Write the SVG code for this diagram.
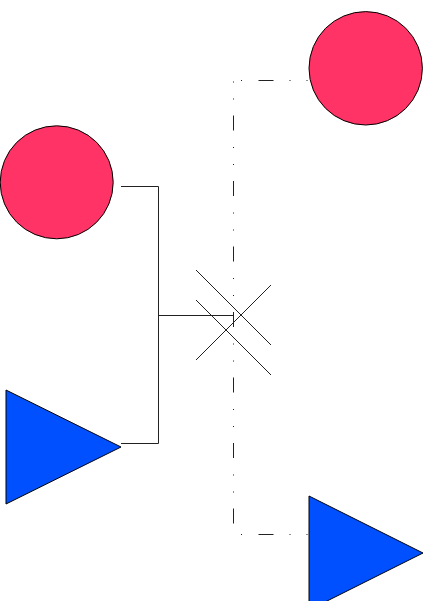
<svg xmlns="http://www.w3.org/2000/svg" width="430" height="601" viewBox="0 0 430 601">
  <style>
    .circle { fill: #FF3366; stroke: #000; stroke-width: 1; }
    .tri { fill: #0050FF; stroke: #000; stroke-width: 1; }
    .solid { fill: none; stroke: #222; stroke-width: 1; }
    .dashdot { fill: none; stroke: #222; stroke-width: 1; stroke-dasharray: 1 16 1 16 15 16.5; stroke-dashoffset: 64; }
  </style>
  <rect width="430" height="601" fill="#fff"/>
  <g id="connectors">
    <path class="solid" d="M121,186.5 H158.5 V443.5 H121"/>
    <path class="solid" d="M158.5,315.5 H233.5"/>
    <path class="dashdot" d="M309,80.5 H233.5"/>
    <path class="dashdot" d="M233.5,80 V534"/>
    <path class="dashdot" d="M309,534.5 H233.5"/>
    <g id="crossing">
      <path class="solid" d="M196,270 L271,345"/>
      <path class="solid" d="M196,300 L271,375"/>
      <path class="solid" d="M196,360 L271,285"/>
    </g>
  </g>
  <g id="circle-left">
    <circle class="circle" cx="56.7" cy="182.3" r="56.5"/>
  </g>
  <g id="circle-right">
    <circle class="circle" cx="365.7" cy="68.3" r="56.7"/>
  </g>
  <g id="triangle-left">
    <polygon class="tri" points="6,390 6,504 121,447"/>
  </g>
  <g id="triangle-right">
    <polygon class="tri" points="309,496 309,610 423,553"/>
  </g>
</svg>
